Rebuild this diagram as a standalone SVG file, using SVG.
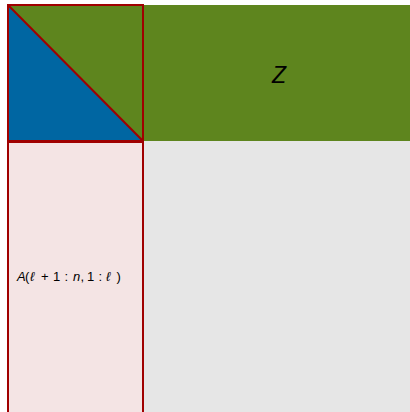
<svg xmlns="http://www.w3.org/2000/svg" width="410" height="412" viewBox="0 0 410 412">
<style>
.red{fill:none;stroke:#a00000;stroke-width:2}
.lbl{font-family:"Liberation Sans","DejaVu Sans",sans-serif;fill:#000}
.i{font-style:italic}
</style>
<rect x="0" y="0" width="410" height="412" fill="#ffffff"/>
<g id="background">
<rect x="143" y="141" width="267" height="271" fill="#e6e6e6"/>
</g>
<g id="Z">
<rect x="7" y="5" width="403" height="136" fill="#5e851e"/>
<text class="lbl i" x="279" y="82.5" font-size="23" text-anchor="middle">Z</text>
</g>
<g id="L">
<polygon points="7,5 143,141 7,141" fill="#0066a2"/>
<rect class="red" x="8" y="5" width="135" height="136"/>
<line class="red" x1="8" y1="5" x2="143" y2="141"/>
</g>
<g id="A">
<rect x="8" y="142" width="135" height="272" fill="#f4e4e4" stroke="#a00000" stroke-width="2"/>
<text class="lbl" y="281" font-size="13"><tspan class="i" x="17">A</tspan><tspan x="25">(</tspan><tspan class="i" x="30">ℓ</tspan><tspan x="41">+</tspan><tspan x="53">1</tspan><tspan x="64.5">:</tspan><tspan class="i" x="73">n</tspan><tspan x="80.5">,</tspan><tspan x="87">1</tspan><tspan x="98.5">:</tspan><tspan class="i" x="106">ℓ</tspan><tspan x="116.5">)</tspan></text>
</g>
</svg>
